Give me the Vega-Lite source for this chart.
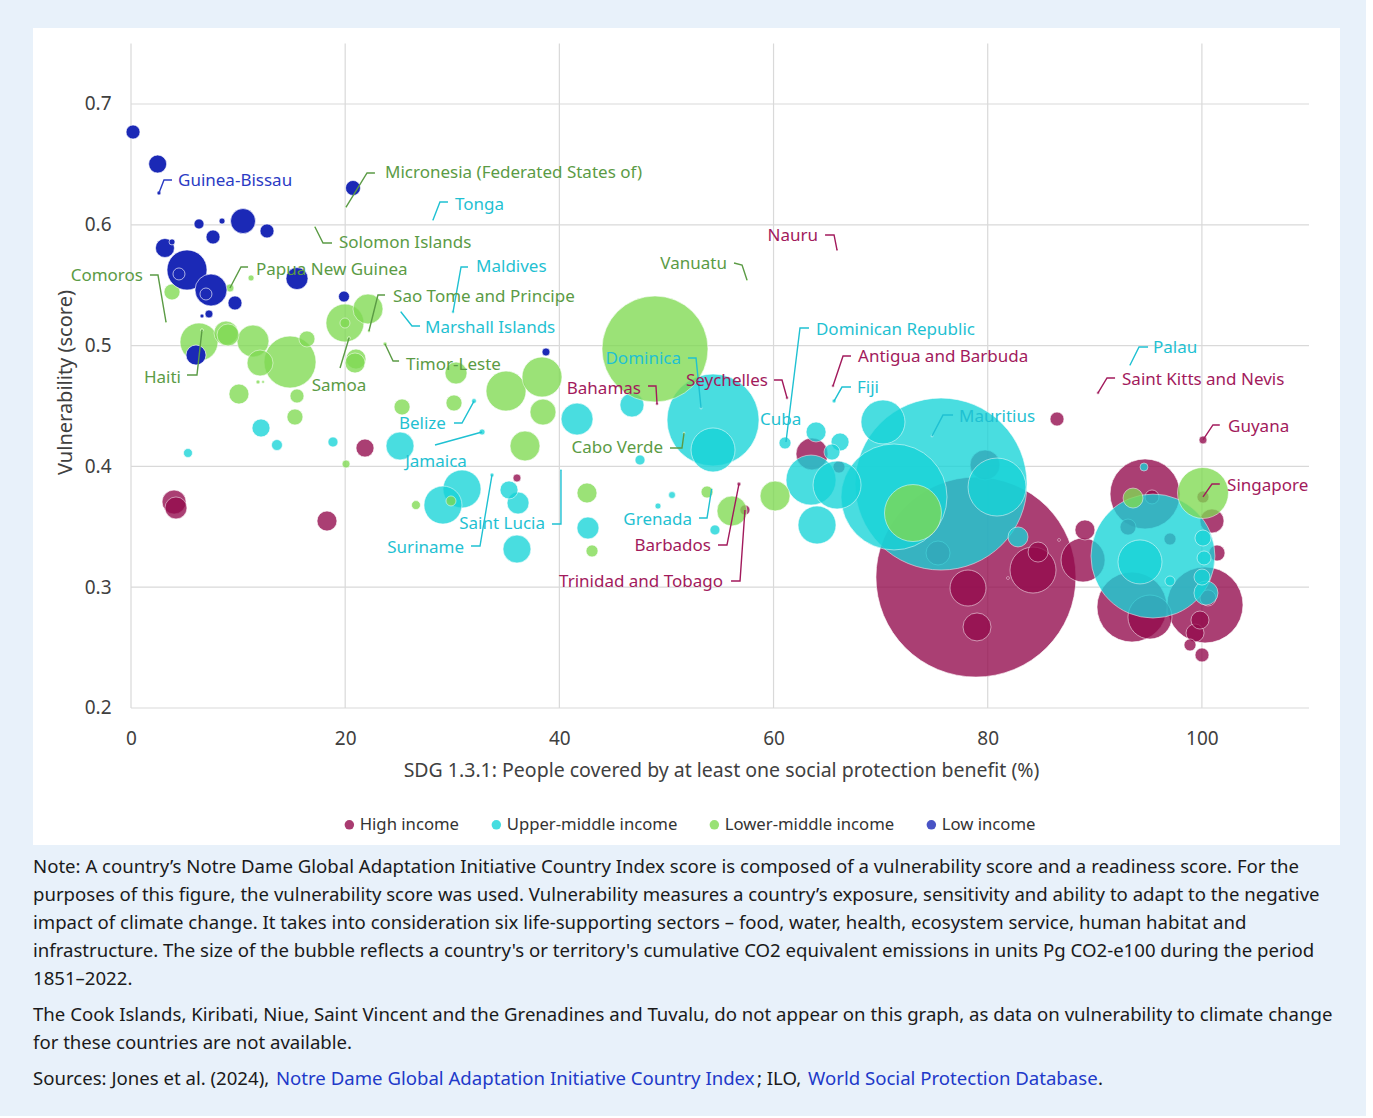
{
  "$schema": "https://vega.github.io/schema/vega-lite/v6.json",
  "background": "#e8f1fa",
  "padding": {"left": 33, "top": 28, "right": 26, "bottom": 27},
  "spacing": 13,
  "resolve": {"scale": {"color": "independent", "fill": "independent"}, "legend": {"color": "independent", "fill": "independent"}},
  "datasets": {
    "xgrid": [{"cov": 0}, {"cov": 20}, {"cov": 40}, {"cov": 60}, {"cov": 80}, {"cov": 100}],
    "ygrid": [{"vul": 0.2}, {"vul": 0.3}, {"vul": 0.4}, {"vul": 0.5}, {"vul": 0.6}, {"vul": 0.7}],
    "bubbles": [
      {"name": "h1", "group": "High income", "cov": 78.90, "vul": 0.3084, "co2": 100},
      {"name": "h2", "group": "High income", "cov": 100.29, "vul": 0.2853, "co2": 14.44},
      {"name": "h3", "group": "High income", "cov": 94.69, "vul": 0.3772, "co2": 12.25},
      {"name": "h4", "group": "High income", "cov": 93.47, "vul": 0.2836, "co2": 12.25},
      {"name": "h5", "group": "High income", "cov": 84.23, "vul": 0.3142, "co2": 5.29},
      {"name": "h6", "group": "High income", "cov": 88.90, "vul": 0.3225, "co2": 4.84},
      {"name": "h7", "group": "High income", "cov": 95.15, "vul": 0.2753, "co2": 4.84},
      {"name": "h8", "group": "High income", "cov": 78.16, "vul": 0.2993, "co2": 3.24},
      {"name": "h9", "group": "High income", "cov": 63.59, "vul": 0.4103, "co2": 2.56},
      {"name": "h10", "group": "High income", "cov": 79.75, "vul": 0.4012, "co2": 2.25},
      {"name": "h11", "group": "High income", "cov": 79.00, "vul": 0.2671, "co2": 1.96},
      {"name": "h12", "group": "High income", "cov": 75.36, "vul": 0.3283, "co2": 1.44},
      {"name": "h13", "group": "High income", "cov": 4.02, "vul": 0.3705, "co2": 1.44},
      {"name": "h14", "group": "High income", "cov": 100.94, "vul": 0.3548, "co2": 1.44},
      {"name": "h15", "group": "High income", "cov": 4.20, "vul": 0.3656, "co2": 1.21},
      {"name": "h16", "group": "High income", "cov": 84.70, "vul": 0.3291, "co2": 1.0},
      {"name": "h17", "group": "High income", "cov": 89.08, "vul": 0.3474, "co2": 1.0},
      {"name": "h18", "group": "High income", "cov": 18.30, "vul": 0.3548, "co2": 1.0},
      {"name": "h19", "group": "High income", "cov": 21.85, "vul": 0.4152, "co2": 0.81},
      {"name": "h20", "group": "High income", "cov": 99.36, "vul": 0.2621, "co2": 0.81},
      {"name": "h21", "group": "High income", "cov": 99.82, "vul": 0.2728, "co2": 0.81},
      {"name": "h22", "group": "High income", "cov": 101.41, "vul": 0.3283, "co2": 0.64},
      {"name": "h23", "group": "High income", "cov": 93.10, "vul": 0.3498, "co2": 0.64},
      {"name": "h24", "group": "High income", "cov": 100.57, "vul": 0.2911, "co2": 0.64},
      {"name": "h25", "group": "High income", "cov": 86.47, "vul": 0.4392, "co2": 0.49},
      {"name": "h26", "group": "High income", "cov": 100.01, "vul": 0.2439, "co2": 0.49},
      {"name": "h27", "group": "High income", "cov": 95.34, "vul": 0.3747, "co2": 0.49},
      {"name": "Singapore", "group": "High income", "cov": 100.10, "vul": 0.3747, "co2": 0.36},
      {"name": "h28", "group": "High income", "cov": 97.02, "vul": 0.3399, "co2": 0.36},
      {"name": "h29", "group": "High income", "cov": 98.89, "vul": 0.2522, "co2": 0.36},
      {"name": "h30", "group": "High income", "cov": 66.11, "vul": 0.3995, "co2": 0.36},
      {"name": "Trinidad and Tobago", "group": "High income", "cov": 57.33, "vul": 0.3639, "co2": 0.25},
      {"name": "h31", "group": "High income", "cov": 36.04, "vul": 0.3904, "co2": 0.16},
      {"name": "Guyana", "group": "High income", "cov": 100.10, "vul": 0.4219, "co2": 0.16},
      {"name": "Barbados", "group": "High income", "cov": 56.77, "vul": 0.3854, "co2": 0.04},
      {"name": "Bahamas", "group": "High income", "cov": 49.12, "vul": 0.4517, "co2": 0.02},
      {"name": "Seychelles", "group": "High income", "cov": 61.26, "vul": 0.4566, "co2": 0.02},
      {"name": "Antigua and Barbuda", "group": "High income", "cov": 65.55, "vul": 0.4666, "co2": 0.02},
      {"name": "Saint Kitts and Nevis", "group": "High income", "cov": 90.30, "vul": 0.4608, "co2": 0.02},
      {"name": "h32", "group": "High income", "cov": 86.66, "vul": 0.3391, "co2": 0.02},
      {"name": "h33", "group": "High income", "cov": 81.89, "vul": 0.3076, "co2": 0.02},
      {"name": "Nauru", "group": "High income", "cov": 65.93, "vul": 0.5791, "co2": 0.01},
      {"name": "u1", "group": "Upper-middle income", "cov": 75.64, "vul": 0.3854, "co2": 73.96},
      {"name": "u2", "group": "Upper-middle income", "cov": 95.43, "vul": 0.3258, "co2": 38.44},
      {"name": "u3", "group": "Upper-middle income", "cov": 71.25, "vul": 0.3747, "co2": 28.09},
      {"name": "u4", "group": "Upper-middle income", "cov": 54.35, "vul": 0.4384, "co2": 21.16},
      {"name": "u5", "group": "Upper-middle income", "cov": 80.87, "vul": 0.3829, "co2": 8.41},
      {"name": "u6", "group": "Upper-middle income", "cov": 63.50, "vul": 0.3887, "co2": 6.25},
      {"name": "u7", "group": "Upper-middle income", "cov": 65.93, "vul": 0.3846, "co2": 5.76},
      {"name": "u8", "group": "Upper-middle income", "cov": 54.35, "vul": 0.4136, "co2": 4.84},
      {"name": "u9", "group": "Upper-middle income", "cov": 70.22, "vul": 0.4368, "co2": 4.84},
      {"name": "u10", "group": "Upper-middle income", "cov": 94.22, "vul": 0.3209, "co2": 4.84},
      {"name": "u11", "group": "Upper-middle income", "cov": 30.91, "vul": 0.3813, "co2": 3.61},
      {"name": "u12", "group": "Upper-middle income", "cov": 29.13, "vul": 0.3680, "co2": 3.61},
      {"name": "u13", "group": "Upper-middle income", "cov": 64.06, "vul": 0.3515, "co2": 3.61},
      {"name": "u14", "group": "Upper-middle income", "cov": 41.65, "vul": 0.4392, "co2": 2.56},
      {"name": "u15", "group": "Upper-middle income", "cov": 25.12, "vul": 0.4169, "co2": 1.96},
      {"name": "u16", "group": "Upper-middle income", "cov": 36.04, "vul": 0.3316, "co2": 1.96},
      {"name": "u17", "group": "Upper-middle income", "cov": 46.78, "vul": 0.4508, "co2": 1.44},
      {"name": "u18", "group": "Upper-middle income", "cov": 100.38, "vul": 0.2952, "co2": 1.44},
      {"name": "u19", "group": "Upper-middle income", "cov": 36.14, "vul": 0.3697, "co2": 1.21},
      {"name": "u20", "group": "Upper-middle income", "cov": 42.67, "vul": 0.3490, "co2": 1.21},
      {"name": "u21", "group": "Upper-middle income", "cov": 63.97, "vul": 0.4285, "co2": 1.0},
      {"name": "u22", "group": "Upper-middle income", "cov": 82.83, "vul": 0.3416, "co2": 1.0},
      {"name": "u23", "group": "Upper-middle income", "cov": 12.14, "vul": 0.4318, "co2": 0.81},
      {"name": "u24", "group": "Upper-middle income", "cov": 35.30, "vul": 0.3805, "co2": 0.81},
      {"name": "u25", "group": "Upper-middle income", "cov": 66.21, "vul": 0.4202, "co2": 0.81},
      {"name": "u26", "group": "Upper-middle income", "cov": 65.46, "vul": 0.4119, "co2": 0.64},
      {"name": "u27", "group": "Upper-middle income", "cov": 100.10, "vul": 0.3407, "co2": 0.64},
      {"name": "u28", "group": "Upper-middle income", "cov": 100.01, "vul": 0.3084, "co2": 0.64},
      {"name": "u29", "group": "Upper-middle income", "cov": 100.20, "vul": 0.3242, "co2": 0.49},
      {"name": "Dominican Republic", "group": "Upper-middle income", "cov": 61.07, "vul": 0.4194, "co2": 0.36},
      {"name": "u30", "group": "Upper-middle income", "cov": 13.63, "vul": 0.4177, "co2": 0.30},
      {"name": "u31", "group": "Upper-middle income", "cov": 18.86, "vul": 0.4202, "co2": 0.25},
      {"name": "u32", "group": "Upper-middle income", "cov": 47.53, "vul": 0.4053, "co2": 0.25},
      {"name": "u33", "group": "Upper-middle income", "cov": 54.53, "vul": 0.3474, "co2": 0.25},
      {"name": "u34", "group": "Upper-middle income", "cov": 97.02, "vul": 0.3051, "co2": 0.25},
      {"name": "u35", "group": "Upper-middle income", "cov": 5.32, "vul": 0.4111, "co2": 0.20},
      {"name": "u36", "group": "Upper-middle income", "cov": 94.59, "vul": 0.3995, "co2": 0.16},
      {"name": "u37", "group": "Upper-middle income", "cov": 50.52, "vul": 0.3763, "co2": 0.12},
      {"name": "u38", "group": "Upper-middle income", "cov": 49.21, "vul": 0.3672, "co2": 0.09},
      {"name": "Jamaica", "group": "Upper-middle income", "cov": 32.78, "vul": 0.4285, "co2": 0.09},
      {"name": "Belize", "group": "Upper-middle income", "cov": 32.03, "vul": 0.4541, "co2": 0.06},
      {"name": "Suriname", "group": "Upper-middle income", "cov": 33.71, "vul": 0.3929, "co2": 0.04},
      {"name": "Fiji", "group": "Upper-middle income", "cov": 65.65, "vul": 0.4541, "co2": 0.04},
      {"name": "Maldives", "group": "Upper-middle income", "cov": 30.07, "vul": 0.5278, "co2": 0.02},
      {"name": "Tonga", "group": "Upper-middle income", "cov": 28.20, "vul": 0.6040, "co2": 0.01},
      {"name": "Marshall Islands", "group": "Upper-middle income", "cov": 25.21, "vul": 0.5278, "co2": 0.01},
      {"name": "Saint Lucia", "group": "Upper-middle income", "cov": 40.15, "vul": 0.3970, "co2": 0.01},
      {"name": "Dominica", "group": "Upper-middle income", "cov": 53.23, "vul": 0.4483, "co2": 0.01},
      {"name": "Mauritius", "group": "Upper-middle income", "cov": 74.80, "vul": 0.4252, "co2": 0.01},
      {"name": "Palau", "group": "Upper-middle income", "cov": 93.29, "vul": 0.4839, "co2": 0.01},
      {"name": "Grenada", "group": "Upper-middle income", "cov": 54.22, "vul": 0.3813, "co2": 0.01},
      {"name": "m1", "group": "Lower-middle income", "cov": 48.93, "vul": 0.4972, "co2": 28.09},
      {"name": "m2", "group": "Lower-middle income", "cov": 73.02, "vul": 0.3614, "co2": 8.12},
      {"name": "m3", "group": "Lower-middle income", "cov": 14.85, "vul": 0.4864, "co2": 6.76},
      {"name": "m4", "group": "Lower-middle income", "cov": 100.10, "vul": 0.3780, "co2": 6.50},
      {"name": "m5", "group": "Lower-middle income", "cov": 35.02, "vul": 0.4624, "co2": 4.0},
      {"name": "m6", "group": "Lower-middle income", "cov": 38.38, "vul": 0.4740, "co2": 4.0},
      {"name": "m7", "group": "Lower-middle income", "cov": 6.35, "vul": 0.5030, "co2": 3.61},
      {"name": "m8", "group": "Lower-middle income", "cov": 19.98, "vul": 0.5187, "co2": 3.61},
      {"name": "m9", "group": "Lower-middle income", "cov": 11.39, "vul": 0.5038, "co2": 2.56},
      {"name": "m10", "group": "Lower-middle income", "cov": 22.13, "vul": 0.5303, "co2": 2.25},
      {"name": "m11", "group": "Lower-middle income", "cov": 36.79, "vul": 0.4169, "co2": 2.25},
      {"name": "m12", "group": "Lower-middle income", "cov": 56.12, "vul": 0.3631, "co2": 2.25},
      {"name": "m13", "group": "Lower-middle income", "cov": 60.14, "vul": 0.3755, "co2": 2.25},
      {"name": "m14", "group": "Lower-middle income", "cov": 12.05, "vul": 0.4856, "co2": 1.69},
      {"name": "m15", "group": "Lower-middle income", "cov": 38.47, "vul": 0.4450, "co2": 1.69},
      {"name": "m16", "group": "Lower-middle income", "cov": 8.87, "vul": 0.5104, "co2": 1.44},
      {"name": "m17", "group": "Lower-middle income", "cov": 9.06, "vul": 0.5088, "co2": 1.21},
      {"name": "m18", "group": "Lower-middle income", "cov": 30.35, "vul": 0.4773, "co2": 1.21},
      {"name": "m19", "group": "Lower-middle income", "cov": 21.01, "vul": 0.4889, "co2": 1.0},
      {"name": "m20", "group": "Lower-middle income", "cov": 20.92, "vul": 0.4856, "co2": 1.0},
      {"name": "m21", "group": "Lower-middle income", "cov": 10.08, "vul": 0.4599, "co2": 1.0},
      {"name": "m22", "group": "Lower-middle income", "cov": 42.58, "vul": 0.3780, "co2": 1.0},
      {"name": "m23", "group": "Lower-middle income", "cov": 93.57, "vul": 0.3738, "co2": 1.0},
      {"name": "m24", "group": "Lower-middle income", "cov": 16.43, "vul": 0.5055, "co2": 0.64},
      {"name": "m25", "group": "Lower-middle income", "cov": 15.31, "vul": 0.4409, "co2": 0.64},
      {"name": "m26", "group": "Lower-middle income", "cov": 25.31, "vul": 0.4492, "co2": 0.64},
      {"name": "m27", "group": "Lower-middle income", "cov": 3.83, "vul": 0.5444, "co2": 0.64},
      {"name": "m28", "group": "Lower-middle income", "cov": 30.16, "vul": 0.4525, "co2": 0.64},
      {"name": "m29", "group": "Lower-middle income", "cov": 15.50, "vul": 0.4583, "co2": 0.49},
      {"name": "m30", "group": "Lower-middle income", "cov": 43.05, "vul": 0.3300, "co2": 0.36},
      {"name": "m31", "group": "Lower-middle income", "cov": 53.79, "vul": 0.3788, "co2": 0.36},
      {"name": "m32", "group": "Lower-middle income", "cov": 19.98, "vul": 0.5187, "co2": 0.25},
      {"name": "m33", "group": "Lower-middle income", "cov": 29.88, "vul": 0.3714, "co2": 0.25},
      {"name": "m34", "group": "Lower-middle income", "cov": 26.61, "vul": 0.3680, "co2": 0.20},
      {"name": "m35", "group": "Lower-middle income", "cov": 20.08, "vul": 0.4020, "co2": 0.16},
      {"name": "Papua New Guinea", "group": "Lower-middle income", "cov": 9.24, "vul": 0.5477, "co2": 0.16},
      {"name": "m36", "group": "Lower-middle income", "cov": 11.21, "vul": 0.5560, "co2": 0.09},
      {"name": "Timor-Leste", "group": "Lower-middle income", "cov": 23.72, "vul": 0.5013, "co2": 0.04},
      {"name": "m37", "group": "Lower-middle income", "cov": 11.86, "vul": 0.4699, "co2": 0.04},
      {"name": "m38", "group": "Lower-middle income", "cov": 12.33, "vul": 0.4699, "co2": 0.02},
      {"name": "Sao Tome and Principe", "group": "Lower-middle income", "cov": 22.22, "vul": 0.5121, "co2": 0.02},
      {"name": "Samoa", "group": "Lower-middle income", "cov": 20.36, "vul": 0.5063, "co2": 0.02},
      {"name": "Haiti", "group": "Lower-middle income", "cov": 6.63, "vul": 0.5129, "co2": 0.02},
      {"name": "Comoros", "group": "Lower-middle income", "cov": 3.27, "vul": 0.5195, "co2": 0.01},
      {"name": "Micronesia (Federated States of)", "group": "Lower-middle income", "cov": 20.08, "vul": 0.6147, "co2": 0.01},
      {"name": "Solomon Islands", "group": "Lower-middle income", "cov": 17.18, "vul": 0.5982, "co2": 0.01},
      {"name": "Vanuatu", "group": "Lower-middle income", "cov": 57.52, "vul": 0.5543, "co2": 0.01},
      {"name": "Cabo Verde", "group": "Lower-middle income", "cov": 51.64, "vul": 0.4276, "co2": 0.01},
      {"name": "l1", "group": "Low income", "cov": 5.23, "vul": 0.5626, "co2": 4.0},
      {"name": "l2", "group": "Low income", "cov": 7.47, "vul": 0.5460, "co2": 2.56},
      {"name": "l3", "group": "Low income", "cov": 10.46, "vul": 0.6031, "co2": 1.56},
      {"name": "l4", "group": "Low income", "cov": 15.50, "vul": 0.5555, "co2": 1.21},
      {"name": "l5", "group": "Low income", "cov": 6.07, "vul": 0.4922, "co2": 1.0},
      {"name": "l6", "group": "Low income", "cov": 3.17, "vul": 0.5808, "co2": 0.90},
      {"name": "l7", "group": "Low income", "cov": 2.49, "vul": 0.6503, "co2": 0.81},
      {"name": "l8", "group": "Low income", "cov": 20.73, "vul": 0.6305, "co2": 0.56},
      {"name": "l9", "group": "Low income", "cov": 0.19, "vul": 0.6768, "co2": 0.49},
      {"name": "l10", "group": "Low income", "cov": 12.70, "vul": 0.5949, "co2": 0.49},
      {"name": "l11", "group": "Low income", "cov": 7.66, "vul": 0.5899, "co2": 0.49},
      {"name": "l12", "group": "Low income", "cov": 9.71, "vul": 0.5353, "co2": 0.49},
      {"name": "l13", "group": "Low income", "cov": 4.48, "vul": 0.5593, "co2": 0.36},
      {"name": "l14", "group": "Low income", "cov": 7.00, "vul": 0.5427, "co2": 0.36},
      {"name": "l15", "group": "Low income", "cov": 19.89, "vul": 0.5406, "co2": 0.30},
      {"name": "l16", "group": "Low income", "cov": 6.35, "vul": 0.6007, "co2": 0.25},
      {"name": "l17", "group": "Low income", "cov": 7.28, "vul": 0.5262, "co2": 0.16},
      {"name": "l18", "group": "Low income", "cov": 38.75, "vul": 0.4947, "co2": 0.16},
      {"name": "l19", "group": "Low income", "cov": 8.50, "vul": 0.6031, "co2": 0.09},
      {"name": "l20", "group": "Low income", "cov": 3.83, "vul": 0.5858, "co2": 0.09},
      {"name": "Guinea-Bissau", "group": "Low income", "cov": 2.61, "vul": 0.6263, "co2": 0.04},
      {"name": "l21", "group": "Low income", "cov": 6.63, "vul": 0.5245, "co2": 0.04}
    ],
    "leaders": [
      {"name": "Guinea-Bissau", "group": "Low income", "k": 0, "cov": 2.61, "vul": 0.6263},
      {"name": "Guinea-Bissau", "group": "Low income", "k": 1, "cov": 3.08, "vul": 0.6371},
      {"name": "Guinea-Bissau", "group": "Low income", "k": 2, "cov": 3.83, "vul": 0.6371},
      {"name": "Micronesia", "group": "Lower-middle income", "k": 0, "cov": 20.08, "vul": 0.6147},
      {"name": "Micronesia", "group": "Lower-middle income", "k": 1, "cov": 22.04, "vul": 0.6429},
      {"name": "Micronesia", "group": "Lower-middle income", "k": 2, "cov": 22.78, "vul": 0.6429},
      {"name": "Tonga", "group": "Upper-middle income", "k": 0, "cov": 28.20, "vul": 0.6040},
      {"name": "Tonga", "group": "Upper-middle income", "k": 1, "cov": 28.85, "vul": 0.6189},
      {"name": "Tonga", "group": "Upper-middle income", "k": 2, "cov": 29.60, "vul": 0.6189},
      {"name": "Solomon Islands", "group": "Lower-middle income", "k": 0, "cov": 17.18, "vul": 0.5982},
      {"name": "Solomon Islands", "group": "Lower-middle income", "k": 1, "cov": 17.93, "vul": 0.5849},
      {"name": "Solomon Islands", "group": "Lower-middle income", "k": 2, "cov": 18.77, "vul": 0.5849},
      {"name": "Papua New Guinea", "group": "Lower-middle income", "k": 0, "cov": 9.24, "vul": 0.5477},
      {"name": "Papua New Guinea", "group": "Lower-middle income", "k": 1, "cov": 10.27, "vul": 0.5651},
      {"name": "Papua New Guinea", "group": "Lower-middle income", "k": 2, "cov": 10.93, "vul": 0.5651},
      {"name": "Maldives", "group": "Upper-middle income", "k": 0, "cov": 30.07, "vul": 0.5278},
      {"name": "Maldives", "group": "Upper-middle income", "k": 1, "cov": 30.82, "vul": 0.5651},
      {"name": "Maldives", "group": "Upper-middle income", "k": 2, "cov": 31.47, "vul": 0.5651},
      {"name": "Sao Tome and Principe", "group": "Lower-middle income", "k": 0, "cov": 22.22, "vul": 0.5121},
      {"name": "Sao Tome and Principe", "group": "Lower-middle income", "k": 1, "cov": 23.06, "vul": 0.5419},
      {"name": "Sao Tome and Principe", "group": "Lower-middle income", "k": 2, "cov": 23.72, "vul": 0.5419},
      {"name": "Marshall Islands", "group": "Upper-middle income", "k": 0, "cov": 25.21, "vul": 0.5278},
      {"name": "Marshall Islands", "group": "Upper-middle income", "k": 1, "cov": 26.24, "vul": 0.5162},
      {"name": "Marshall Islands", "group": "Upper-middle income", "k": 2, "cov": 26.99, "vul": 0.5162},
      {"name": "Timor-Leste", "group": "Lower-middle income", "k": 0, "cov": 23.72, "vul": 0.5013},
      {"name": "Timor-Leste", "group": "Lower-middle income", "k": 1, "cov": 24.47, "vul": 0.4873},
      {"name": "Timor-Leste", "group": "Lower-middle income", "k": 2, "cov": 25.03, "vul": 0.4873},
      {"name": "Comoros", "group": "Lower-middle income", "k": 0, "cov": 3.27, "vul": 0.5195},
      {"name": "Comoros", "group": "Lower-middle income", "k": 1, "cov": 2.52, "vul": 0.5584},
      {"name": "Comoros", "group": "Lower-middle income", "k": 2, "cov": 1.77, "vul": 0.5584},
      {"name": "Haiti", "group": "Lower-middle income", "k": 0, "cov": 6.63, "vul": 0.5129},
      {"name": "Haiti", "group": "Lower-middle income", "k": 1, "cov": 6.16, "vul": 0.4757},
      {"name": "Haiti", "group": "Lower-middle income", "k": 2, "cov": 5.23, "vul": 0.4757},
      {"name": "Samoa", "group": "Lower-middle income", "k": 0, "cov": 20.36, "vul": 0.5063},
      {"name": "Samoa", "group": "Lower-middle income", "k": 1, "cov": 19.52, "vul": 0.4815},
      {"name": "Vanuatu", "group": "Lower-middle income", "k": 0, "cov": 57.52, "vul": 0.5543},
      {"name": "Vanuatu", "group": "Lower-middle income", "k": 1, "cov": 57.06, "vul": 0.5667},
      {"name": "Vanuatu", "group": "Lower-middle income", "k": 2, "cov": 56.31, "vul": 0.5684},
      {"name": "Nauru", "group": "High income", "k": 0, "cov": 65.93, "vul": 0.5791},
      {"name": "Nauru", "group": "High income", "k": 1, "cov": 65.65, "vul": 0.5916},
      {"name": "Nauru", "group": "High income", "k": 2, "cov": 64.81, "vul": 0.5916},
      {"name": "Bahamas", "group": "High income", "k": 0, "cov": 49.12, "vul": 0.4517},
      {"name": "Bahamas", "group": "High income", "k": 1, "cov": 49.02, "vul": 0.4666},
      {"name": "Bahamas", "group": "High income", "k": 2, "cov": 48.28, "vul": 0.4666},
      {"name": "Dominica", "group": "Upper-middle income", "k": 0, "cov": 53.23, "vul": 0.4483},
      {"name": "Dominica", "group": "Upper-middle income", "k": 1, "cov": 52.76, "vul": 0.4897},
      {"name": "Dominica", "group": "Upper-middle income", "k": 2, "cov": 52.01, "vul": 0.4897},
      {"name": "Seychelles", "group": "High income", "k": 0, "cov": 61.26, "vul": 0.4566},
      {"name": "Seychelles", "group": "High income", "k": 1, "cov": 60.79, "vul": 0.4715},
      {"name": "Seychelles", "group": "High income", "k": 2, "cov": 60.04, "vul": 0.4715},
      {"name": "Dominican Republic", "group": "Upper-middle income", "k": 0, "cov": 61.16, "vul": 0.4202},
      {"name": "Dominican Republic", "group": "Upper-middle income", "k": 1, "cov": 62.47, "vul": 0.5146},
      {"name": "Dominican Republic", "group": "Upper-middle income", "k": 2, "cov": 63.31, "vul": 0.5146},
      {"name": "Antigua and Barbuda", "group": "High income", "k": 0, "cov": 65.55, "vul": 0.4666},
      {"name": "Antigua and Barbuda", "group": "High income", "k": 1, "cov": 66.49, "vul": 0.4914},
      {"name": "Antigua and Barbuda", "group": "High income", "k": 2, "cov": 67.23, "vul": 0.4914},
      {"name": "Fiji", "group": "Upper-middle income", "k": 0, "cov": 65.65, "vul": 0.4541},
      {"name": "Fiji", "group": "Upper-middle income", "k": 1, "cov": 66.39, "vul": 0.4657},
      {"name": "Fiji", "group": "Upper-middle income", "k": 2, "cov": 67.23, "vul": 0.4657},
      {"name": "Mauritius", "group": "Upper-middle income", "k": 0, "cov": 74.80, "vul": 0.4252},
      {"name": "Mauritius", "group": "Upper-middle income", "k": 1, "cov": 75.82, "vul": 0.4425},
      {"name": "Mauritius", "group": "Upper-middle income", "k": 2, "cov": 76.76, "vul": 0.4425},
      {"name": "Palau", "group": "Upper-middle income", "k": 0, "cov": 93.29, "vul": 0.4839},
      {"name": "Palau", "group": "Upper-middle income", "k": 1, "cov": 94.13, "vul": 0.4988},
      {"name": "Palau", "group": "Upper-middle income", "k": 2, "cov": 94.97, "vul": 0.4988},
      {"name": "Saint Kitts and Nevis", "group": "High income", "k": 0, "cov": 90.30, "vul": 0.4608},
      {"name": "Saint Kitts and Nevis", "group": "High income", "k": 1, "cov": 91.14, "vul": 0.4732},
      {"name": "Saint Kitts and Nevis", "group": "High income", "k": 2, "cov": 91.89, "vul": 0.4732},
      {"name": "Guyana", "group": "High income", "k": 0, "cov": 100.10, "vul": 0.4219},
      {"name": "Guyana", "group": "High income", "k": 1, "cov": 101.03, "vul": 0.4343},
      {"name": "Guyana", "group": "High income", "k": 2, "cov": 101.67, "vul": 0.4343},
      {"name": "Singapore", "group": "High income", "k": 0, "cov": 100.10, "vul": 0.3747},
      {"name": "Singapore", "group": "High income", "k": 1, "cov": 100.94, "vul": 0.3854},
      {"name": "Singapore", "group": "High income", "k": 2, "cov": 101.67, "vul": 0.3854},
      {"name": "Cabo Verde", "group": "Lower-middle income", "k": 0, "cov": 51.64, "vul": 0.4276},
      {"name": "Cabo Verde", "group": "Lower-middle income", "k": 1, "cov": 51.45, "vul": 0.4152},
      {"name": "Cabo Verde", "group": "Lower-middle income", "k": 2, "cov": 50.33, "vul": 0.4152},
      {"name": "Belize", "group": "Upper-middle income", "k": 0, "cov": 32.03, "vul": 0.4541},
      {"name": "Belize", "group": "Upper-middle income", "k": 1, "cov": 30.91, "vul": 0.4359},
      {"name": "Belize", "group": "Upper-middle income", "k": 2, "cov": 30.16, "vul": 0.4359},
      {"name": "Jamaica", "group": "Upper-middle income", "k": 0, "cov": 32.78, "vul": 0.4285},
      {"name": "Jamaica", "group": "Upper-middle income", "k": 1, "cov": 28.39, "vul": 0.4177},
      {"name": "Saint Lucia", "group": "Upper-middle income", "k": 0, "cov": 40.15, "vul": 0.3970},
      {"name": "Saint Lucia", "group": "Upper-middle income", "k": 1, "cov": 40.15, "vul": 0.3523},
      {"name": "Saint Lucia", "group": "Upper-middle income", "k": 2, "cov": 39.31, "vul": 0.3523},
      {"name": "Suriname", "group": "Upper-middle income", "k": 0, "cov": 33.71, "vul": 0.3929},
      {"name": "Suriname", "group": "Upper-middle income", "k": 1, "cov": 32.59, "vul": 0.3341},
      {"name": "Suriname", "group": "Upper-middle income", "k": 2, "cov": 31.75, "vul": 0.3341},
      {"name": "Grenada", "group": "Upper-middle income", "k": 0, "cov": 54.22, "vul": 0.3813},
      {"name": "Grenada", "group": "Upper-middle income", "k": 1, "cov": 53.79, "vul": 0.3573},
      {"name": "Grenada", "group": "Upper-middle income", "k": 2, "cov": 53.04, "vul": 0.3573},
      {"name": "Barbados", "group": "High income", "k": 0, "cov": 56.77, "vul": 0.3854},
      {"name": "Barbados", "group": "High income", "k": 1, "cov": 55.65, "vul": 0.3349},
      {"name": "Barbados", "group": "High income", "k": 2, "cov": 54.81, "vul": 0.3349},
      {"name": "Trinidad and Tobago", "group": "High income", "k": 0, "cov": 57.33, "vul": 0.3639},
      {"name": "Trinidad and Tobago", "group": "High income", "k": 1, "cov": 56.87, "vul": 0.3051},
      {"name": "Trinidad and Tobago", "group": "High income", "k": 2, "cov": 56.03, "vul": 0.3051}
    ],
    "labels_left": [
      {"name": "Guinea-Bissau", "group": "Low income", "cov": 4.39, "vul": 0.6363},
      {"name": "Micronesia (Federated States of)", "group": "Lower-middle income", "cov": 23.72, "vul": 0.6429},
      {"name": "Tonga", "group": "Upper-middle income", "cov": 30.25, "vul": 0.6164},
      {"name": "Solomon Islands", "group": "Lower-middle income", "cov": 19.42, "vul": 0.5849},
      {"name": "Papua New Guinea", "group": "Lower-middle income", "cov": 11.67, "vul": 0.5626},
      {"name": "Maldives", "group": "Upper-middle income", "cov": 32.22, "vul": 0.5651},
      {"name": "Sao Tome and Principe", "group": "Lower-middle income", "cov": 24.47, "vul": 0.5401},
      {"name": "Marshall Islands", "group": "Upper-middle income", "cov": 27.45, "vul": 0.5146},
      {"name": "Timor-Leste", "group": "Lower-middle income", "cov": 25.68, "vul": 0.4839},
      {"name": "Dominican Republic", "group": "Upper-middle income", "cov": 63.96, "vul": 0.5129},
      {"name": "Antigua and Barbuda", "group": "High income", "cov": 67.89, "vul": 0.4906},
      {"name": "Fiji", "group": "Upper-middle income", "cov": 67.79, "vul": 0.4649},
      {"name": "Mauritius", "group": "Upper-middle income", "cov": 77.32, "vul": 0.4409},
      {"name": "Palau", "group": "Upper-middle income", "cov": 95.43, "vul": 0.4980},
      {"name": "Saint Kitts and Nevis", "group": "High income", "cov": 92.54, "vul": 0.4715},
      {"name": "Guyana", "group": "High income", "cov": 102.44, "vul": 0.4326},
      {"name": "Singapore", "group": "High income", "cov": 102.35, "vul": 0.3838},
      {"name": "Cuba", "group": "Upper-middle income", "cov": 58.74, "vul": 0.4384}
    ],
    "labels_right": [
      {"name": "Comoros", "group": "Lower-middle income", "cov": 1.12, "vul": 0.5576},
      {"name": "Haiti", "group": "Lower-middle income", "cov": 4.67, "vul": 0.4732},
      {"name": "Vanuatu", "group": "Lower-middle income", "cov": 55.65, "vul": 0.5675},
      {"name": "Nauru", "group": "High income", "cov": 64.15, "vul": 0.5907},
      {"name": "Bahamas", "group": "High income", "cov": 47.62, "vul": 0.4641},
      {"name": "Dominica", "group": "Upper-middle income", "cov": 51.36, "vul": 0.4889},
      {"name": "Seychelles", "group": "High income", "cov": 59.48, "vul": 0.4707},
      {"name": "Cabo Verde", "group": "Lower-middle income", "cov": 49.68, "vul": 0.4152},
      {"name": "Belize", "group": "Upper-middle income", "cov": 29.41, "vul": 0.4351},
      {"name": "Saint Lucia", "group": "Upper-middle income", "cov": 38.66, "vul": 0.3523},
      {"name": "Suriname", "group": "Upper-middle income", "cov": 31.10, "vul": 0.3325},
      {"name": "Grenada", "group": "Upper-middle income", "cov": 52.39, "vul": 0.3556},
      {"name": "Barbados", "group": "High income", "cov": 54.16, "vul": 0.3341},
      {"name": "Trinidad and Tobago", "group": "High income", "cov": 55.28, "vul": 0.3043}
    ],
    "labels_center": [
      {"name": "Samoa", "group": "Lower-middle income", "cov": 19.42, "vul": 0.4666},
      {"name": "Jamaica", "group": "Upper-middle income", "cov": 28.48, "vul": 0.4036}
    ],
    "notes": [
      {"line": 0, "start": 0, "kind": "text", "txt": "Note: A country’s Notre Dame Global Adaptation Initiative Country Index score is composed of a vulnerability score and a readiness score. For the"},
      {"line": 1, "start": 0, "kind": "text", "txt": "purposes of this figure, the vulnerability score was used. Vulnerability measures a country’s exposure, sensitivity and ability to adapt to the negative"},
      {"line": 2, "start": 0, "kind": "text", "txt": "impact of climate change. It takes into consideration six life-supporting sectors – food, water, health, ecosystem service, human habitat and"},
      {"line": 3, "start": 0, "kind": "text", "txt": "infrastructure. The size of the bubble reflects a country's or territory's cumulative CO2 equivalent emissions in units Pg CO2-e100 during the period"},
      {"line": 4, "start": 0, "kind": "text", "txt": "1851–2022."},
      {"line": 5.286, "start": 0, "kind": "text", "txt": "The Cook Islands, Kiribati, Niue, Saint Vincent and the Grenadines and Tuvalu, do not appear on this graph, as data on vulnerability to climate change"},
      {"line": 6.286, "start": 0, "kind": "text", "txt": "for these countries are not available."},
      {"line": 7.571, "start": 0, "kind": "text", "txt": "Sources: Jones et al. (2024),"},
      {"line": 7.571, "start": 0.1859, "kind": "link", "txt": "Notre Dame Global Adaptation Initiative Country Index"},
      {"line": 7.571, "start": 0.5539, "kind": "text", "txt": "; ILO,"},
      {"line": 7.571, "start": 0.5930, "kind": "link", "txt": "World Social Protection Database"},
      {"line": 7.571, "start": 0.8149, "kind": "text", "txt": "."}
    ]
  },
  "vconcat": [
    {
      "width": 1307,
      "height": 817,
      "view": {"fill": "white", "stroke": null},
      "layer": [
        {
          "data": {"name": "xgrid"},
          "mark": {"type": "rule", "color": "#d9d9d9", "strokeWidth": 1.2},
          "encoding": {
            "x": {"field": "cov", "type": "quantitative"},
            "y": {"datum": 0.2},
            "y2": {"datum": 0.75}
          }
        },
        {
          "data": {"name": "ygrid"},
          "mark": {"type": "rule", "color": "#d9d9d9", "strokeWidth": 1.2},
          "encoding": {
            "y": {"field": "vul", "type": "quantitative"},
            "x": {"datum": 0},
            "x2": {"datum": 110}
          }
        },
        {
          "data": {"name": "bubbles"},
          "transform": [{"filter": "datum.group !== 'Low income'"}],
          "mark": {"type": "circle", "opacity": 0.78, "stroke": "white", "strokeWidth": 0.8, "strokeOpacity": 0.8},
          "encoding": {
            "x": {"field": "cov", "type": "quantitative",
                  "scale": {"domain": [-9.151, 112.895], "nice": false, "zero": false},
                  "axis": {"title": "SDG 1.3.1: People covered by at least one social protection benefit (%)", "values": [0, 20, 40, 60, 80, 100], "offset": -137, "labelPadding": 21, "labelFontSize": 19, "titleFontSize": 19.5, "titleX": 688, "titleY": 62, "titleBaseline": "middle"}},
            "y": {"field": "vul", "type": "quantitative",
                  "scale": {"domain": [0.08659, 0.76291], "nice": false, "zero": false},
                  "axis": {"title": "Vulnerability (score)", "values": [0.2, 0.3, 0.4, 0.5, 0.6, 0.7], "format": ".1f", "offset": -98, "labelPadding": 20, "labelFontSize": 19, "titleFontSize": 20, "titleX": -66, "titleY": 354, "titleBaseline": "middle"}},
            "size": {"field": "co2", "type": "quantitative", "scale": {"type": "linear", "domain": [0, 100], "range": [0, 40000]}, "legend": null},
            "fill": {"field": "group", "type": "nominal",
                     "scale": {"domain": ["High income", "Upper-middle income", "Lower-middle income", "Low income"], "range": ["#930a4c", "#17d4d8", "#7fda52", "#1b29b6"]},
                     "legend": {"title": null}}
          }
        },
        {
          "data": {"name": "bubbles"},
          "transform": [{"filter": "datum.group === 'Low income'"}],
          "mark": {"type": "circle", "opacity": 1, "stroke": "white", "strokeWidth": 0.8, "strokeOpacity": 0.8},
          "encoding": {
            "x": {"field": "cov", "type": "quantitative"},
            "y": {"field": "vul", "type": "quantitative"},
            "size": {"field": "co2", "type": "quantitative", "scale": {"type": "linear", "domain": [0, 100], "range": [0, 40000]}, "legend": null},
            "fill": {"field": "group", "type": "nominal",
                     "scale": {"domain": ["High income", "Upper-middle income", "Lower-middle income", "Low income"], "range": ["#930a4c", "#17d4d8", "#7fda52", "#1b29b6"]},
                     "legend": {"title": null}}
          }
        },
        {
          "data": {"name": "leaders"},
          "mark": {"type": "line", "strokeWidth": 1.4},
          "encoding": {
            "x": {"field": "cov", "type": "quantitative"},
            "y": {"field": "vul", "type": "quantitative"},
            "order": {"field": "k"},
            "detail": {"field": "name"},
            "color": {"field": "group", "type": "nominal",
                      "scale": {"domain": ["High income", "Upper-middle income", "Lower-middle income", "Low income"], "range": ["#a21a5c", "#1fc1d2", "#5b9b45", "#2b3bc4"]},
                      "legend": null}
          }
        },
        {
          "data": {"name": "labels_left"},
          "mark": {"type": "text", "align": "left", "baseline": "middle", "font": "Noto Sans", "fontSize": 17},
          "encoding": {
            "x": {"field": "cov", "type": "quantitative"},
            "y": {"field": "vul", "type": "quantitative"},
            "text": {"field": "name"},
            "color": {"field": "group", "type": "nominal", "legend": null}
          }
        },
        {
          "data": {"name": "labels_right"},
          "mark": {"type": "text", "align": "right", "baseline": "middle", "font": "Noto Sans", "fontSize": 17},
          "encoding": {
            "x": {"field": "cov", "type": "quantitative"},
            "y": {"field": "vul", "type": "quantitative"},
            "text": {"field": "name"},
            "color": {"field": "group", "type": "nominal", "legend": null}
          }
        },
        {
          "data": {"name": "labels_center"},
          "mark": {"type": "text", "align": "center", "baseline": "middle", "font": "Noto Sans", "fontSize": 17},
          "encoding": {
            "x": {"field": "cov", "type": "quantitative"},
            "y": {"field": "vul", "type": "quantitative"},
            "text": {"field": "name"},
            "color": {"field": "group", "type": "nominal", "legend": null}
          }
        }
      ]
    },
    {
      "width": 1307,
      "height": 212,
      "view": {"stroke": null},
      "data": {"name": "notes"},
      "mark": {"type": "text", "align": "left", "baseline": "middle", "font": "Noto Sans", "fontSize": 18.6},
      "encoding": {
        "x": {"field": "start", "type": "quantitative", "scale": {"domain": [0, 1], "nice": false}, "axis": null},
        "y": {"field": "line", "type": "quantitative", "scale": {"domain": [0, 7.571], "nice": false, "reverse": true}, "axis": null},
        "text": {"field": "txt"},
        "color": {"field": "kind", "type": "nominal", "scale": {"domain": ["text", "link"], "range": ["#1a1a1a", "#2139c9"]}, "legend": null}
      }
    }
  ],
  "config": {
    "font": "Noto Sans",
    "view": {"stroke": null},
    "axis": {"grid": false, "ticks": false, "domain": false, "labelFont": "Noto Sans", "labelFontSize": 19, "labelColor": "#404040", "titleFont": "Noto Sans", "titleFontSize": 19.5, "titleFontWeight": "normal", "titleColor": "#404040"},
    "legend": {"orient": "none", "legendX": 308, "legendY": 788, "direction": "horizontal", "symbolType": "circle", "symbolSize": 90, "symbolStrokeWidth": 0, "symbolOpacity": 0.8, "labelFont": "Noto Sans", "labelFontSize": 16.7, "labelColor": "#333333", "columnPadding": 28, "labelOffset": 2, "labelLimit": 400}
  }
}
